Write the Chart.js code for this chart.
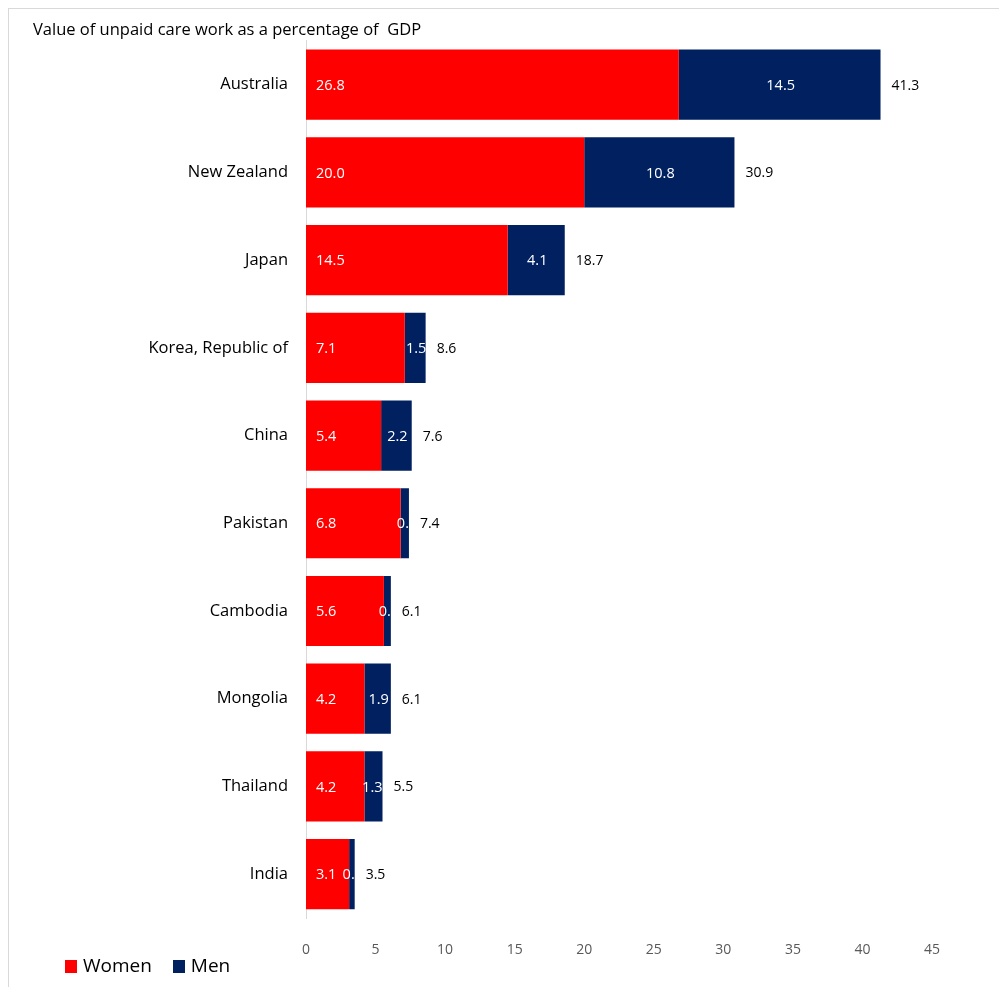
<!DOCTYPE html>
<html>
<head>
<meta charset="utf-8">
<script src="https://cdn.jsdelivr.net/npm/chart.js@4.4.1/dist/chart.umd.min.js"></script>
<style>
  html, body { margin: 0; padding: 0; background: #fff; }
  #wrap { position: relative; width: 999px; height: 987px; }
  #frame { position: absolute; left: 8px; top: 8px; right: 0; bottom: 0;
           border-top: 1px solid #d9d9d9; border-left: 1px solid #d9d9d9; }
  #chartCanvas { position: absolute; left: 0; top: 0; }
  #legend { position: absolute; left: 65px; top: 952px; font: 19px "Open Sans", sans-serif; color: #000; }
  #legend span.box { display: inline-block; width: 12px; height: 13px; margin-right: 6px; vertical-align: -1px; }
  #legend span.item { margin-right: 16px; }
</style>
</head>
<body>
<div id="wrap">
  <div id="frame"></div>
  <canvas id="chartCanvas" width="999" height="987"></canvas>
  <div id="legend">
    <span class="item"><span class="box" style="background:#ff0000"></span>Women</span>
    <span class="item"><span class="box" style="background:#002060"></span>Men</span>
  </div>
</div>
<script>
const countries = ['Australia', 'New Zealand', 'Japan', 'Korea, Republic of', 'China',
                   'Pakistan', 'Cambodia', 'Mongolia', 'Thailand', 'India'];
const women = [26.8, 20.0, 14.5, 7.1, 5.4, 6.8, 5.6, 4.2, 4.2, 3.1];
const men = [14.5, 10.8, 4.1, 1.5, 2.2, 0.6, 0.5, 1.9, 1.3, 0.4];
const totals = [41.3, 30.9, 18.7, 8.6, 7.6, 7.4, 6.1, 6.1, 5.5, 3.5];
const xTicks = [0, 5, 10, 15, 20, 25, 30, 35, 40, 45];

const FONT = '"Open Sans", sans-serif';

// draws the value labels the way the original spreadsheet chart shows them
const barLabels = {
    id: 'barLabels',
    afterDatasetsDraw(chart) {
        const ctx = chart.ctx;
        ctx.save();
        ctx.textBaseline = 'middle';

        const wMeta = chart.getDatasetMeta(0);
        const mMeta = chart.getDatasetMeta(1);

        ctx.font = '14.5px ' + FONT;
        wMeta.data.forEach((bar, i) => {
            ctx.fillStyle = '#ffffff';
            ctx.textAlign = 'left';
            ctx.fillText(women[i].toFixed(1), bar.base + 10, bar.y + 1);
        });

        mMeta.data.forEach((bar, i) => {
            const left = bar.base;
            const right = bar.x;
            const w = right - left;
            ctx.font = '14.5px ' + FONT;
            let txt = men[i].toFixed(1);
            // truncate text that does not fit the segment
            while (txt.length > 0 && ctx.measureText(txt).width > w + 10) {
                txt = txt.slice(0, -1);
            }
            if (txt.length) {
                const tw = ctx.measureText(txt).width;
                let cx = (left + right) / 2 + 1;
                if (tw > w) cx = right - tw / 2;
                ctx.fillStyle = '#ffffff';
                ctx.textAlign = 'center';
                ctx.save();
                ctx.beginPath();
                ctx.rect(left - 14, bar.y - 20, w + 15, 40);
                ctx.clip();
                ctx.fillText(txt, cx, bar.y + 1);
                ctx.restore();
            }
            ctx.font = '14px ' + FONT;
            ctx.fillStyle = '#000000';
            ctx.textAlign = 'left';
            ctx.fillText(totals[i].toFixed(1), right + 11, bar.y + 1);
        });
        ctx.restore();
    }
};

const ctx = document.getElementById('chartCanvas').getContext('2d');
new Chart(ctx, {
    type: 'bar',
    data: {
        labels: countries,
        datasets: [
            {
                label: 'Women',
                data: women,
                backgroundColor: '#ff0000',
                borderWidth: 0,
                barPercentage: 0.8,
                categoryPercentage: 1.0
            },
            {
                label: 'Men',
                data: men,
                backgroundColor: '#002060',
                borderWidth: 0,
                barPercentage: 0.8,
                categoryPercentage: 1.0
            }
        ]
    },
    options: {
        indexAxis: 'y',
        responsive: false,
        animation: false,
        layout: { padding: { left: 33, right: 67, top: 0, bottom: 29 } },
        plugins: {
            legend: { display: false },
            tooltip: { enabled: false },
            title: {
                display: true,
                text: 'Value of unpaid care work as a percentage of  GDP',
                align: 'start',
                color: '#000000',
                font: { family: FONT, size: 16.5, weight: 'normal' },
                padding: { top: 20, bottom: 1 }
            }
        },
        scales: {
            x: {
                stacked: true,
                min: 0,
                max: 45,
                afterBuildTicks: scale => { scale.ticks = xTicks.map(v => ({ value: v })); },
                grid: { display: false },
                border: { display: false },
                ticks: {
                    color: '#595959',
                    font: { family: FONT, size: 14 },
                    padding: 16
                },
                afterFit: scale => { scale.height = 40; }
            },
            y: {
                stacked: true,
                grid: { display: false },
                border: { display: true, color: '#d9d9d9', width: 1 },
                ticks: {
                    color: '#000000',
                    font: { family: FONT, size: 16.5 },
                    padding: 10
                },
                afterFit: scale => { scale.width = 306 - 33; }
            }
        }
    },
    plugins: [barLabels]
});
</script>
</body>
</html>
